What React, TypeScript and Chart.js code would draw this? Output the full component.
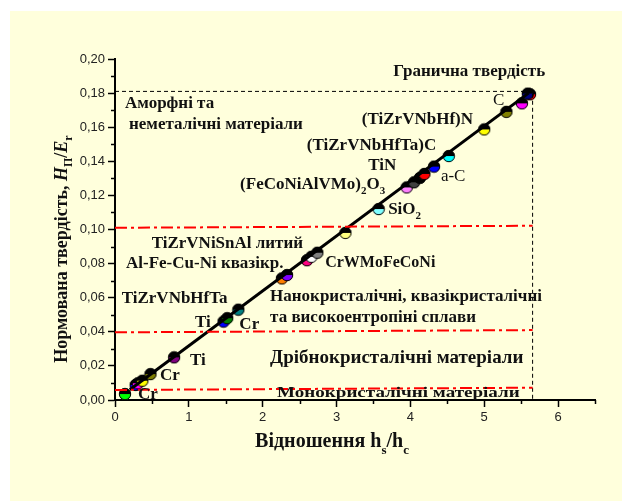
import React, { useEffect, useRef } from 'react';
import { Chart, registerables } from 'chart.js';
Chart.register(...registerables);

// ---- data ----
const pointX = [0.135, 0.28, 0.31, 0.37, 0.48, 0.80, 1.47, 1.52, 1.67, 2.26, 2.33, 2.60, 2.66, 2.74, 3.12, 3.57, 3.95, 4.05, 4.13, 4.19, 4.32, 4.52, 5.00, 5.30, 5.51, 5.62, 5.59];
const pointY = [0.0035, 0.0088, 0.0098, 0.0113, 0.0152, 0.025, 0.046, 0.048, 0.053, 0.0713, 0.0733, 0.082, 0.084, 0.0864, 0.098, 0.112, 0.1247, 0.1277, 0.1303, 0.1326, 0.1369, 0.1431, 0.1587, 0.169, 0.174, 0.1793, 0.1797];
const pointColors = ['#00FF00', '#0000FF', '#FF00FF', '#FFFF00', '#808000', '#800080', '#0000FF', '#008000', '#008080', '#FF8000', '#8000FF', '#FF0080', '#FFFFFF', '#808080', '#FFFF80', '#80FFFF', '#FF80FF', '#404040', '#000000', '#FF0000', '#0000FF', '#00FFFF', '#FFFF00', '#808000', '#FF00FF', '#FF0000', '#000080'];

const fitX = [0.2, 5.6];
const fitY = [0.006, 0.18];

const limitX = [0, 5.655, 5.655];
const limitY = [0.181, 0.181, 0];

const boundX = [0, 5.655];
const bound1Y = [0.101, 0.1022];
const bound2Y = [0.0397, 0.041];
const bound3Y = [0.0059, 0.0072];

const xTicks = [0, 1, 2, 3, 4, 5, 6];
const yTicks = [0, 0.02, 0.04, 0.06, 0.08, 0.1, 0.12, 0.14, 0.16, 0.18, 0.2];

// annotations: text ("_" marks a one-character subscript), x, y (data), weight, size
const labelText = ['Гранична твердість', 'Аморфні та', 'неметалічні матеріали', '(TiZrVNbHf)N', '(TiZrVNbHfTa)C', 'TiN', '(FeCoNiAlVMo)_2O_3', 'a-C', 'C', 'SiO_2', 'TiZrVNiSnAl литий', 'Al-Fe-Cu-Ni квазікр.', 'TiZrVNbHfTa', 'Ti', 'Cr', 'Ti', 'Cr', 'Cr', 'CrWMoFeCoNi', 'Нанокристалічні, квазікристалічні', 'та високоентропіні сплави', 'Дрібнокристалічні матеріали', 'Монокристалічні матеріали'];
const labelX = [3.767, 0.1355, 0.19, 3.343, 2.598, 3.428, 1.694, 4.413, 5.118, 3.699, 0.497, 0.149, 0.091, 1.084, 1.684, 1.016, 0.61, 0.312, 2.846, 2.1, 2.1, 2.1, 2.195];
const labelY = [0.1924, 0.1736, 0.1613, 0.1642, 0.149, 0.1374, 0.1261, 0.131, 0.1754, 0.1114, 0.0919, 0.0802, 0.0592, 0.0453, 0.0444, 0.023, 0.01425, 0.0029, 0.0802, 0.0606, 0.0485, 0.0248, 0.0039];
const labelBold = [true, true, true, true, true, true, true, false, false, true, true, true, true, true, true, true, true, true, true, true, true, true, true];
const labelSize = [17, 17, 17, 17, 17, 17, 17, 17, 17, 17, 17, 17, 17, 17, 17, 17, 17, 17, 16, 17, 17, 19, 16];
const labelStretch = [1, 1, 1, 1, 1, 1, 1, 1, 1, 1, 1, 1, 1, 1, 1, 1, 1, 1, 1, 1, 1, 1, 1.19];

const SERIF = '"Liberation Serif", "Times New Roman", serif';
const SANS = '"Liberation Sans", Arial, sans-serif';

function makeDot(color: string): HTMLCanvasElement {
  const r = 6;
  const c = document.createElement('canvas');
  c.width = 2 * r + 2;
  c.height = 2 * r + 2;
  const g = c.getContext('2d')!;
  const cx = r + 1, cy = r + 1;
  g.beginPath();
  g.arc(cx, cy, r, Math.PI, 2 * Math.PI);
  g.closePath();
  g.fillStyle = '#000';
  g.fill();
  g.beginPath();
  g.arc(cx, cy, r, 0, Math.PI);
  g.closePath();
  g.fillStyle = color;
  g.fill();
  g.beginPath();
  g.arc(cx, cy, r - 0.3, 0, 2 * Math.PI);
  g.lineWidth = 1;
  g.strokeStyle = '#000';
  g.stroke();
  return c;
}

type Seg = { t: string; font: string; dy: number };

function parseRich(text: string, size: number, bold: boolean): Seg[] {
  const w = bold ? 'bold ' : '';
  const main = `${w}${size}px ${SERIF}`;
  const sub = `${w}${Math.round(size * 0.65)}px ${SERIF}`;
  const segs: Seg[] = [];
  let buf = '';
  for (let i = 0; i < text.length; i++) {
    if (text[i] === '_' && i + 1 < text.length) {
      if (buf) { segs.push({ t: buf, font: main, dy: 0 }); buf = ''; }
      segs.push({ t: text[i + 1], font: sub, dy: size * 0.35 });
      i++;
    } else buf += text[i];
  }
  if (buf) segs.push({ t: buf, font: main, dy: 0 });
  return segs;
}

function drawSegs(ctx: CanvasRenderingContext2D, segs: Seg[], x: number, y: number, align: 'left' | 'center', stretchX = 1, stretchY = 1) {
  let total = 0;
  for (const s of segs) { ctx.font = s.font; total += ctx.measureText(s.t).width; }
  ctx.save();
  ctx.translate(x, y);
  ctx.scale(stretchX, stretchY);
  let cx = align === 'center' ? -total / 2 : 0;
  ctx.textAlign = 'left';
  for (const s of segs) {
    ctx.font = s.font;
    ctx.fillText(s.t, cx, s.dy);
    cx += ctx.measureText(s.t).width;
  }
  ctx.restore();
}

const bgPlugin = {
  id: 'bg',
  beforeDraw(chart: any) {
    const ctx = chart.ctx;
    ctx.save();
    ctx.fillStyle = '#FFFFDC';
    ctx.fillRect(10, 11, chart.width - 10, chart.height - 11);
    ctx.restore();
  },
};

const decoPlugin = {
  id: 'deco',
  afterDraw(chart: any) {
    const ctx: CanvasRenderingContext2D = chart.ctx;
    const xs = chart.scales.x, ys = chart.scales.y;
    const area = chart.chartArea;
    ctx.save();
    // minor ticks
    ctx.strokeStyle = '#000';
    ctx.lineWidth = 1.5;
    for (let v = 0.5; v <= 6.5; v += 1) {
      const px = Math.round(xs.getPixelForValue(v)) + 0.5;
      ctx.beginPath(); ctx.moveTo(px, area.bottom); ctx.lineTo(px, area.bottom + 4); ctx.stroke();
    }
    for (let v = 0.01; v < 0.2; v += 0.02) {
      const py = Math.round(ys.getPixelForValue(v)) + 0.5;
      ctx.beginPath(); ctx.moveTo(area.left, py); ctx.lineTo(area.left - 4, py); ctx.stroke();
    }
    // annotations
    ctx.fillStyle = '#111';
    ctx.textBaseline = 'middle';
    for (let i = 0; i < labelText.length; i++) {
      const segs = parseRich(labelText[i], labelSize[i], labelBold[i]);
      const sy = labelStretch[i] !== 1 ? 0.9 : 1;
      drawSegs(ctx, segs, xs.getPixelForValue(labelX[i]), ys.getPixelForValue(labelY[i]), 'left', labelStretch[i], sy);
    }
    // x title
    ctx.textBaseline = 'alphabetic';
    const xt: Seg[] = [
      { t: 'Відношення h', font: `bold 20px ${SERIF}`, dy: 0 },
      { t: 's', font: `bold 13px ${SERIF}`, dy: 7 },
      { t: '/h', font: `bold 20px ${SERIF}`, dy: 0 },
      { t: 'c', font: `bold 13px ${SERIF}`, dy: 7 },
    ];
    drawSegs(ctx, xt, 332, 447, 'center');
    // y title
    ctx.translate(67, 249);
    ctx.rotate(-Math.PI / 2);
    const yt: Seg[] = [
      { t: 'Нормована твердість, ', font: `bold 18px ${SERIF}`, dy: 0 },
      { t: 'H', font: `bold italic 18px ${SERIF}`, dy: 0 },
      { t: 'П', font: `bold 12px ${SERIF}`, dy: 5 },
      { t: '/', font: `bold 18px ${SERIF}`, dy: 0 },
      { t: 'E', font: `bold italic 18px ${SERIF}`, dy: 0 },
      { t: 'r', font: `bold 12px ${SERIF}`, dy: 5 },
    ];
    drawSegs(ctx, yt, 0, 0, 'center');
    ctx.restore();
  },
};

function toXY(xs: number[], ys: number[]) {
  return xs.map((x, i) => ({ x, y: ys[i] }));
}

export default function App() {
  const ref = useRef<HTMLCanvasElement | null>(null);
  useEffect(() => {
    if (!ref.current) return;
    const dots = pointColors.map(makeDot);
    const redLine = (ys: number[]) => ({
      type: 'line' as const,
      data: toXY(boundX, ys),
      borderColor: '#FF0000',
      borderWidth: 2,
      borderDash: [12, 4, 3, 4],
      pointRadius: 0,
      fill: false,
    });
    const chart = new Chart(ref.current, {
      type: 'scatter',
      data: {
        datasets: [
          redLine(bound1Y),
          redLine(bound2Y),
          redLine(bound3Y),
          {
            type: 'line',
            data: toXY(limitX, limitY),
            borderColor: '#000',
            borderWidth: 1,
            borderDash: [4, 3],
            pointRadius: 0,
            fill: false,
          } as any,
          {
            type: 'line',
            data: toXY(fitX, fitY),
            borderColor: '#000',
            borderWidth: 3,
            pointRadius: 0,
            fill: false,
          } as any,
          {
            type: 'scatter',
            data: toXY(pointX, pointY),
            pointStyle: dots as any,
            pointRadius: 6,
          } as any,
        ] as any,
      },
      options: {
        animation: false,
        responsive: false,
        devicePixelRatio: 1,
        layout: { padding: { top: 59, right: 27, left: 0, bottom: 0 } },
        plugins: { legend: { display: false }, tooltip: { enabled: false } },
        scales: {
          x: {
            type: 'linear',
            min: 0,
            max: 6.5,
            afterFit: (s: any) => { s.height = 101; },
            afterBuildTicks: (s: any) => { s.ticks = xTicks.map((v) => ({ value: v })); },
            ticks: {
              font: { family: SANS, size: 13 },
              color: '#222',
              padding: 3,
              callback: (v: any) => String(v),
            },
            grid: { drawOnChartArea: false, tickLength: 7, tickColor: '#000', tickWidth: 1.5 },
            border: { color: '#000', width: 2 },
          },
          y: {
            type: 'linear',
            min: 0,
            max: 0.2,
            afterFit: (s: any) => { s.width = 115; },
            afterBuildTicks: (s: any) => { s.ticks = yTicks.map((v) => ({ value: v })); },
            ticks: {
              font: { family: SANS, size: 13 },
              color: '#222',
              padding: 3,
              callback: (v: any) => Number(v).toFixed(2).replace('.', ','),
            },
            grid: { drawOnChartArea: false, tickLength: 7, tickColor: '#000', tickWidth: 1.5 },
            border: { color: '#000', width: 2 },
          },
        },
      } as any,
      plugins: [bgPlugin, decoPlugin],
    });
    return () => chart.destroy();
  }, []);
  return (
    <div style={{ position: 'absolute', left: 0, top: 0, width: 622, height: 501 }}>
      <canvas ref={ref} width={622} height={501} style={{ width: 622, height: 501, display: 'block' }} />
    </div>
  );
}
